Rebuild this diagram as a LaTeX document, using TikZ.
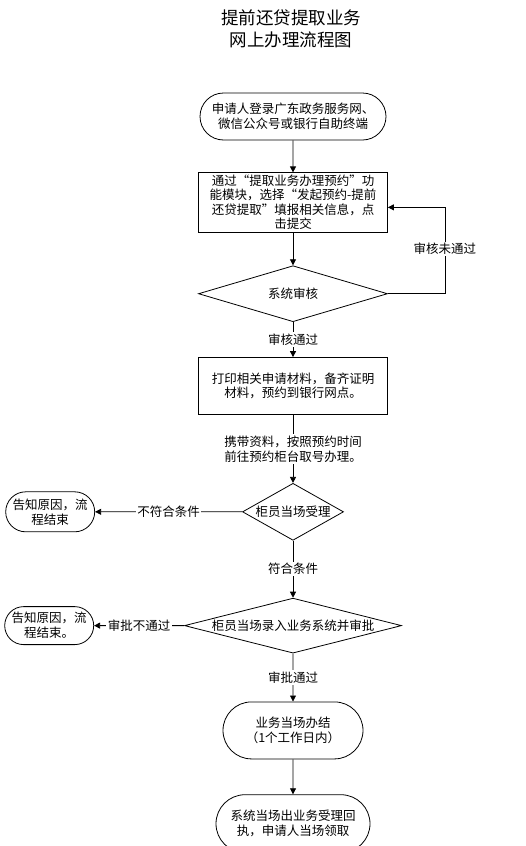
\documentclass[tikz,border=0pt]{standalone}
\usepackage{fontspec}
\setmainfont{Noto Sans CJK SC}
\usetikzlibrary{arrows.meta,positioning,shapes.geometric,shapes.misc}
\tikzset{
  box/.style={draw, align=center, minimum width=189pt, minimum height=57pt, inner sep=2pt, font=\fontsize{12.5}{14.5}\selectfont},
  branch/.style={diamond, draw, align=center, inner sep=0pt, font=\fontsize{12.5}{14.5}\selectfont},
  oval/.style={rounded rectangle, draw, align=center, inner sep=2pt, font=\fontsize{12.5}{15}\selectfont},
  line/.style={-{Triangle[length=6pt, width=6pt]}, line width=0.8pt},
  tag/.style={fill=white, align=center, inner sep=1.5pt, font=\fontsize{12.5}{15}\selectfont}
}
\begin{document}
\begin{tikzpicture}[x=1pt, y=-1pt, line width=0.8pt]
  \useasboundingbox (0,0) rectangle (525,846);
  \node[align=center, font=\fontsize{17.5}{22}\selectfont] (title) at (291,29) {提前还贷提取业务\\网上办理流程图};

  \node[oval, minimum width=190pt, minimum height=47pt] (apply) at (293,116.5) {申请人登录广东政务服务网、\\微信公众号或银行自助终端};
  \node[box, below=32pt of apply] (book) {通过“提取业务办理预约”功\\能模块，选择“发起预约-提前\\还贷提取”填报相关信息，点\\击提交};
  \node[branch, below=33pt of book, aspect=3.4, minimum width=189pt, minimum height=56pt] (check) {系统审核};
  \node[box, below=35pt of check] (print) {打印相关申请材料，备齐证明\\材料，预约到银行网点。};
  \node[branch, below=68pt of print, aspect=1.8, minimum width=101pt, minimum height=57pt] (accept) {柜员当场受理};
  \node[branch, below=57pt of accept, aspect=4, minimum width=217pt, minimum height=55pt] (enter) {柜员当场录入业务系统并审批};
  \node[oval, below=48pt of enter, minimum width=144pt, minimum height=57pt] (done) {业务当场办结\\（1个工作日内）};
  \node[oval, below=35pt of done, minimum width=158pt, minimum height=58pt] (receipt) {系统当场出业务受理回\\执，申请人当场领取};
  \node[oval, left=147pt of accept, minimum width=93pt, minimum height=40pt] (stop1) {告知原因，流\\程结束};
  \node[oval, left=90pt of enter, minimum width=93pt, minimum height=38pt] (stop2) {告知原因，流\\程结束。};

  \draw[line] (apply) -- (book);
  \draw[line] (book) -- (check);
  \draw[line] (check) -- node[tag] {审核通过} (print);
  \draw[line] (check.east) -- ++(57,0) |- node[tag, pos=0.26] {审核未通过} ([yshift=-5pt]book.east);
  \draw[line] (print) -- node[tag] {携带资料，按照预约时间\\前往预约柜台取号办理。} (accept);
  \draw[line] (accept) -- node[tag] {不符合条件} (stop1);
  \draw[line] (accept) -- node[tag] {符合条件} (enter);
  \draw[line] (enter) -- node[tag] {审批不通过} (stop2);
  \draw[line] (enter) -- node[tag] {审批通过} (done);
  \draw[line] (done) -- (receipt);
\end{tikzpicture}
\end{document}
